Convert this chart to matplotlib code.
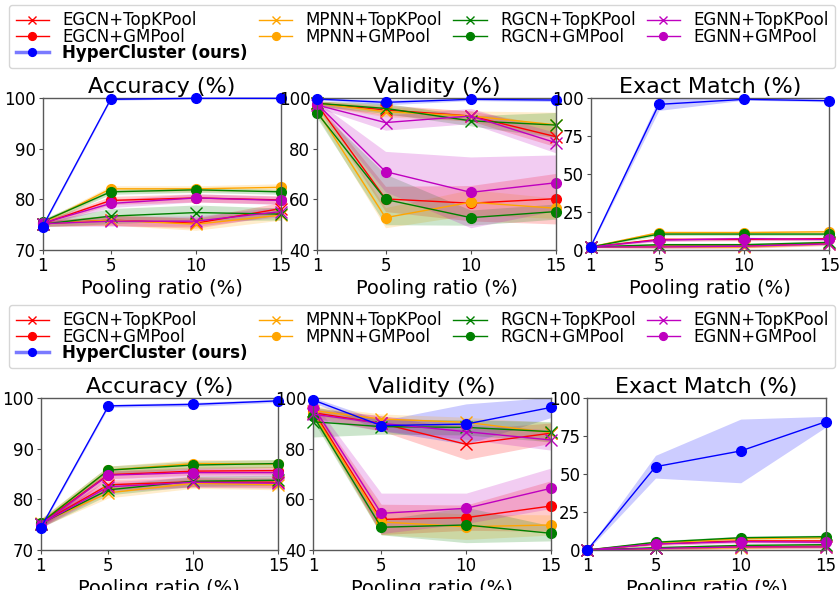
import matplotlib
matplotlib.use("Agg")
import matplotlib.pyplot as plt
from matplotlib.lines import Line2D
import numpy as np

pooling = [1, 5, 10, 15]
methods = ["EGCN+TopKPool", "EGCN+GMPool", "HyperCluster (ours)",
           "MPNN+TopKPool", "MPNN+GMPool", "RGCN+TopKPool", "RGCN+GMPool",
           "EGNN+TopKPool", "EGNN+GMPool"]
colors = ["r", "r", "b", "orange", "orange", "g", "g", "m", "m"]
markers = ["x", "o", "o", "x", "o", "x", "o", "x", "o"]

# ---------------- top block ----------------
top_acc = {
    "EGCN+TopKPool": [75.2, 75.9, 75.3, 78.2],
    "EGCN+GMPool": [75.2, 79.8, 80.3, 79.9],
    "HyperCluster (ours)": [74.6, 99.8, 100.0, 100.0],
    "MPNN+TopKPool": [75.2, 75.9, 75.1, 76.9],
    "MPNN+GMPool": [75.3, 82.1, 82.1, 82.4],
    "RGCN+TopKPool": [75.1, 76.7, 77.4, 77.1],
    "RGCN+GMPool": [75.6, 81.5, 81.9, 81.5],
    "EGNN+TopKPool": [75.2, 75.7, 75.7, 77.6],
    "EGNN+GMPool": [75.3, 79.2, 80.3, 79.8],
}
top_acc_std = {
    "EGCN+TopKPool": [0.5, 1.0, 1.0, 1.2],
    "EGCN+GMPool": [0.5, 0.8, 0.8, 0.8],
    "HyperCluster (ours)": [0.3, 0.2, 0.1, 0.1],
    "MPNN+TopKPool": [0.5, 1.0, 1.2, 1.0],
    "MPNN+GMPool": [0.5, 0.6, 0.6, 0.7],
    "RGCN+TopKPool": [0.5, 1.5, 1.5, 1.2],
    "RGCN+GMPool": [0.5, 0.5, 0.5, 0.5],
    "EGNN+TopKPool": [0.5, 1.0, 1.0, 1.0],
    "EGNN+GMPool": [0.5, 0.8, 0.8, 0.8],
}
top_val = {
    "EGCN+TopKPool": [98.0, 95.4, 93.0, 84.8],
    "EGCN+GMPool": [97.5, 60.2, 58.5, 60.3],
    "HyperCluster (ours)": [99.7, 98.4, 99.6, 99.3],
    "MPNN+TopKPool": [98.0, 94.7, 93.0, 89.5],
    "MPNN+GMPool": [95.0, 52.8, 58.9, 56.5],
    "RGCN+TopKPool": [98.0, 96.0, 91.1, 89.4],
    "RGCN+GMPool": [94.1, 60.0, 52.8, 55.2],
    "EGNN+TopKPool": [97.3, 90.4, 93.0, 82.4],
    "EGNN+GMPool": [97.7, 71.0, 62.8, 66.6],
}
top_val_std = {
    "EGCN+TopKPool": [1, 2, 2, 4],
    "EGCN+GMPool": [1, 5, 7, 10],
    "HyperCluster (ours)": [0.3, 1.0, 0.5, 0.6],
    "MPNN+TopKPool": [1, 2, 2, 5],
    "MPNN+GMPool": [2, 4, 5, 4],
    "RGCN+TopKPool": [1, 2, 2, 5],
    "RGCN+GMPool": [2, 10, 3, 3],
    "EGNN+TopKPool": [1, 3, 3, 4],
    "EGNN+GMPool": [1, 8, 14, 11],
}
top_em = {
    "EGCN+TopKPool": [2.0, 2.5, 2.5, 4.5],
    "EGCN+GMPool": [2.0, 7.0, 7.0, 7.5],
    "HyperCluster (ours)": [2.2, 96.0, 99.3, 98.4],
    "MPNN+TopKPool": [2.0, 2.0, 2.0, 4.0],
    "MPNN+GMPool": [2.0, 11.5, 11.5, 12.0],
    "RGCN+TopKPool": [2.0, 3.5, 3.5, 5.0],
    "RGCN+GMPool": [2.0, 10.5, 10.5, 10.5],
    "EGNN+TopKPool": [2.0, 2.0, 2.5, 4.0],
    "EGNN+GMPool": [2.0, 6.5, 7.5, 7.0],
}
top_em_std = {
    "EGCN+TopKPool": [0.5, 1, 1, 1],
    "EGCN+GMPool": [0.5, 1, 1, 1],
    "HyperCluster (ours)": [0.5, 4, 0.5, 0.8],
    "MPNN+TopKPool": [0.5, 1, 1, 1],
    "MPNN+GMPool": [0.5, 1, 1, 1],
    "RGCN+TopKPool": [0.5, 1, 1, 1],
    "RGCN+GMPool": [0.5, 1, 1, 1],
    "EGNN+TopKPool": [0.5, 1, 1, 1],
    "EGNN+GMPool": [0.5, 1, 1, 1],
}

# ---------------- bottom block ----------------
bot_acc = {
    "EGCN+TopKPool": [75.2, 82.9, 83.5, 83.4],
    "EGCN+GMPool": [75.2, 84.9, 85.6, 85.7],
    "HyperCluster (ours)": [74.3, 98.5, 98.8, 99.5],
    "MPNN+TopKPool": [75.3, 81.3, 83.2, 82.9],
    "MPNN+GMPool": [75.4, 85.8, 87.1, 87.0],
    "RGCN+TopKPool": [75.2, 81.9, 83.6, 83.8],
    "RGCN+GMPool": [75.3, 85.8, 86.8, 87.1],
    "EGNN+TopKPool": [75.1, 82.5, 83.4, 83.2],
    "EGNN+GMPool": [75.0, 84.8, 85.3, 85.3],
}
bot_acc_std = {
    "EGCN+TopKPool": [0.8, 1.0, 1.0, 1.0],
    "EGCN+GMPool": [0.8, 0.8, 0.8, 0.8],
    "HyperCluster (ours)": [0.3, 0.3, 0.4, 0.3],
    "MPNN+TopKPool": [0.8, 1.0, 1.0, 1.0],
    "MPNN+GMPool": [0.8, 0.8, 0.8, 0.8],
    "RGCN+TopKPool": [0.8, 1.0, 1.0, 1.0],
    "RGCN+GMPool": [0.8, 0.8, 0.8, 0.8],
    "EGNN+TopKPool": [0.8, 1.0, 1.0, 1.0],
    "EGNN+GMPool": [0.8, 0.8, 0.8, 0.8],
}
bot_val = {
    "EGCN+TopKPool": [94.3, 90.1, 81.8, 86.2],
    "EGCN+GMPool": [95.0, 52.1, 52.8, 57.4],
    "HyperCluster (ours)": [99.3, 89.2, 89.8, 96.4],
    "MPNN+TopKPool": [95.1, 91.8, 90.5, 86.4],
    "MPNN+GMPool": [94.0, 51.1, 49.2, 49.9],
    "RGCN+TopKPool": [90.7, 88.8, 88.5, 86.8],
    "RGCN+GMPool": [93.0, 49.0, 49.9, 46.6],
    "EGNN+TopKPool": [93.7, 90.1, 86.8, 83.5],
    "EGNN+GMPool": [96.7, 54.5, 56.5, 64.4],
}
bot_val_std = {
    "EGCN+TopKPool": [2, 3, 6, 4],
    "EGCN+GMPool": [2, 6, 5, 10],
    "HyperCluster (ours)": [1, 2, 8, 4],
    "MPNN+TopKPool": [2, 2, 2, 4],
    "MPNN+GMPool": [2, 5, 5, 4],
    "RGCN+TopKPool": [6, 3, 3, 4],
    "RGCN+GMPool": [2, 3, 7, 3],
    "EGNN+TopKPool": [2, 3, 3, 4],
    "EGNN+GMPool": [2, 8, 6, 8],
}
bot_em = {
    "EGCN+TopKPool": [0.0, 1.0, 2.0, 2.5],
    "EGCN+GMPool": [0.0, 4.0, 6.0, 6.0],
    "HyperCluster (ours)": [0.0, 54.9, 65.3, 84.6],
    "MPNN+TopKPool": [0.0, 1.0, 1.5, 2.0],
    "MPNN+GMPool": [0.0, 4.5, 7.5, 8.0],
    "RGCN+TopKPool": [0.0, 1.5, 3.0, 3.5],
    "RGCN+GMPool": [0.0, 5.1, 8.1, 8.8],
    "EGNN+TopKPool": [0.0, 1.0, 2.0, 2.0],
    "EGNN+GMPool": [0.0, 4.0, 5.5, 5.1],
}
bot_em_std = {
    "EGCN+TopKPool": [0.2, 1, 1, 1],
    "EGCN+GMPool": [0.2, 1, 1, 1],
    "HyperCluster (ours)": [0.3, 7.5, 21, 3.5],
    "MPNN+TopKPool": [0.2, 1, 1, 1],
    "MPNN+GMPool": [0.2, 1, 1, 1],
    "RGCN+TopKPool": [0.2, 1, 1, 1],
    "RGCN+GMPool": [0.2, 1, 1, 1],
    "EGNN+TopKPool": [0.2, 1, 1, 1],
    "EGNN+GMPool": [0.2, 1, 1, 1],
}

titles = ["Accuracy (%)", "Validity (%)", "Exact Match (%)"]
ylims = [(70, 100), (40, 100), (0, 100)]
yticks = [[70, 80, 90, 100], [40, 60, 80, 100], [0, 25, 50, 75, 100]]

W, H = 839, 590
fig = plt.figure(figsize=(W / 100, H / 100), dpi=100)


def px_axes(x0, y0, x1, y1):
    return fig.add_axes([x0 / W, 1 - y1 / H, (x1 - x0) / W, (y1 - y0) / H])


def draw_panel(ax, means, stds, idx):
    for name, c, mk in zip(methods, colors, markers):
        m = np.array(means[name], dtype=float)
        s = np.array(stds[name], dtype=float)
        z = 3 if name.startswith("Hyper") else 2
        ax.fill_between(pooling, m - s, m + s, color=c, alpha=0.2,
                        linewidth=0, zorder=1)
        ax.plot(pooling, m, color=c, marker=mk, lw=1.0,
                markersize=7 if mk == "o" else 8, mew=1.0,
                clip_on=False, zorder=z, label=name)
    ax.set_xlim(1, 15)
    ax.set_ylim(*ylims[idx])
    ax.set_xticks(pooling)
    ax.set_yticks(yticks[idx])
    ax.set_title(titles[idx], fontsize=16, pad=4)
    ax.set_xlabel("Pooling ratio (%)", fontsize=14, labelpad=3)
    ax.tick_params(labelsize=12, length=3, pad=2, color="0.3")
    for sp in ax.spines.values():
        sp.set_color("0.35")
        sp.set_linewidth(1.0)


blocks = [
    dict(data=[(top_acc, top_acc_std), (top_val, top_val_std), (top_em, top_em_std)],
         xs=[(42.5, 281.0), (317.3, 556.0), (590.7, 829.3)],
         ytop=98.3, ybot=250.0, leg=(9.0, 4.7, 835.5, 66.7)),
    dict(data=[(bot_acc, bot_acc_std), (bot_val, bot_val_std), (bot_em, bot_em_std)],
         xs=[(40.5, 278.3), (313.3, 551.0), (587.3, 826.0)],
         ytop=398.3, ybot=550.0, leg=(9.0, 304.7, 835.5, 366.7)),
]

for blk in blocks:
    for i, ((mean_d, std_d), (x0, x1)) in enumerate(zip(blk["data"], blk["xs"])):
        ax = px_axes(x0, blk["ytop"], x1, blk["ybot"])
        draw_panel(ax, mean_d, std_d, i)
    handles = []
    for name, c, mk in zip(methods, colors, markers):
        if name.startswith("Hyper"):
            h = Line2D([], [], color=(0.3, 0.3, 1.0, 0.75), lw=2.5, marker=mk,
                       markerfacecolor="b", markeredgecolor="b", markersize=7)
        else:
            h = Line2D([], [], color=c, lw=1.0, marker=mk,
                       markersize=7 if mk == "o" else 8)
        handles.append(h)
    lx0, ly0, lx1, ly1 = blk["leg"]
    leg = fig.legend(handles, methods, loc="upper left",
                     bbox_to_anchor=(lx0 / W, 1 - ly1 / H, (lx1 - lx0) / W, (ly1 - ly0) / H),
                     mode="expand", ncol=4, fontsize=12, borderaxespad=0,
                     labelspacing=-0.11, handlelength=2.0, handletextpad=0.8,
                     markerscale=0.8, columnspacing=0.6, borderpad=0.4)
    leg.get_texts()[2].set_fontweight("bold")

fig.savefig("out.png", dpi=100)
